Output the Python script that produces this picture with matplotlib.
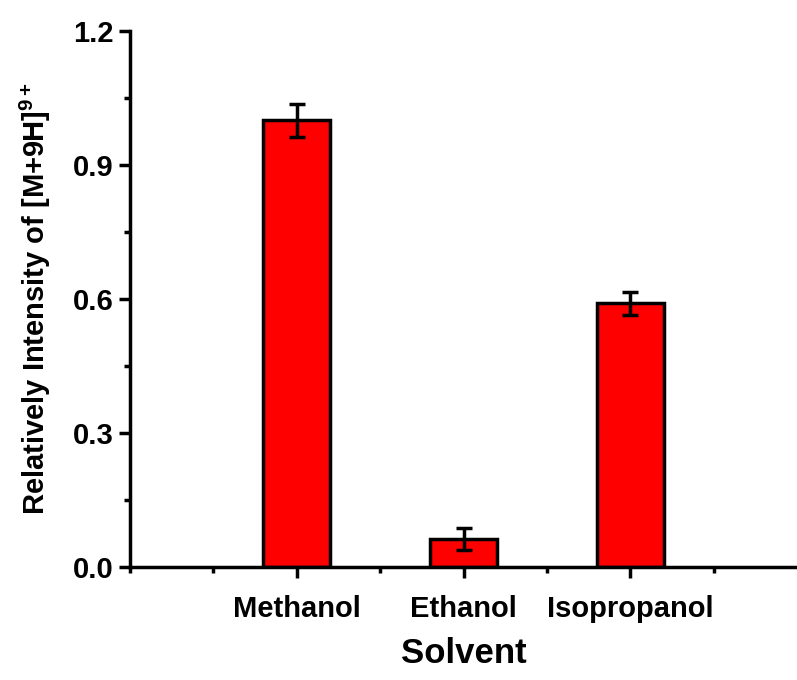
import matplotlib
matplotlib.use("Agg")
import matplotlib.pyplot as plt
from matplotlib.ticker import MultipleLocator, FormatStrFormatter, FixedLocator

categories = ["Methanol", "Ethanol", "Isopropanol"]
values = [1.0, 0.063, 0.59]
errors = [0.037, 0.025, 0.025]

plt.rcParams['font.family'] = ['Liberation Sans', 'DejaVu Sans']
plt.rcParams['font.weight'] = 'bold'
plt.rcParams['mathtext.fontset'] = 'custom'
plt.rcParams['mathtext.bf'] = 'Liberation Sans:bold'
plt.rcParams['mathtext.rm'] = 'Liberation Sans:bold'

fig = plt.figure(figsize=(7.97, 6.80), dpi=100)
ax = fig.add_axes([130/797, 113/680, 667/797, 536/680])

x = [1, 2, 3]
ax.bar(x, values, width=0.4, color='#ff0000', edgecolor='black', linewidth=2.5, zorder=2)
ax.errorbar(x, values, yerr=errors, fmt='none', ecolor='black', elinewidth=2.5,
            capsize=6, capthick=2.5, zorder=3)

ax.set_xlim(0, 4)
ax.set_ylim(0, 1.2)
ax.set_xticks(x)
ax.set_xticklabels(categories)
ax.xaxis.set_minor_locator(FixedLocator([0, 0.5, 1.5, 2.5, 3.5]))
ax.yaxis.set_major_locator(MultipleLocator(0.3))
ax.yaxis.set_minor_locator(MultipleLocator(0.15))
ax.yaxis.set_major_formatter(FormatStrFormatter('%.1f'))

for s in ['top', 'right']:
    ax.spines[s].set_visible(False)
for s in ['left', 'bottom']:
    ax.spines[s].set_linewidth(2.5)
ax.spines['left'].set_bounds(0, 1.2)

ax.tick_params(axis='both', which='major', direction='out', length=8, width=2.5,
               labelsize=21, pad=4)
ax.tick_params(axis='both', which='minor', direction='out', length=4, width=2.5)
ax.tick_params(axis='x', which='major', pad=12)

ax.set_xlabel("Solvent", fontsize=25, fontweight='bold', labelpad=10)
ax.set_ylabel(r"Relatively Intensity of [M+9H]$^{\mathbf{9+}}$", fontsize=21,
              fontweight='bold', labelpad=14)

fig.savefig("out.png", dpi=100)
